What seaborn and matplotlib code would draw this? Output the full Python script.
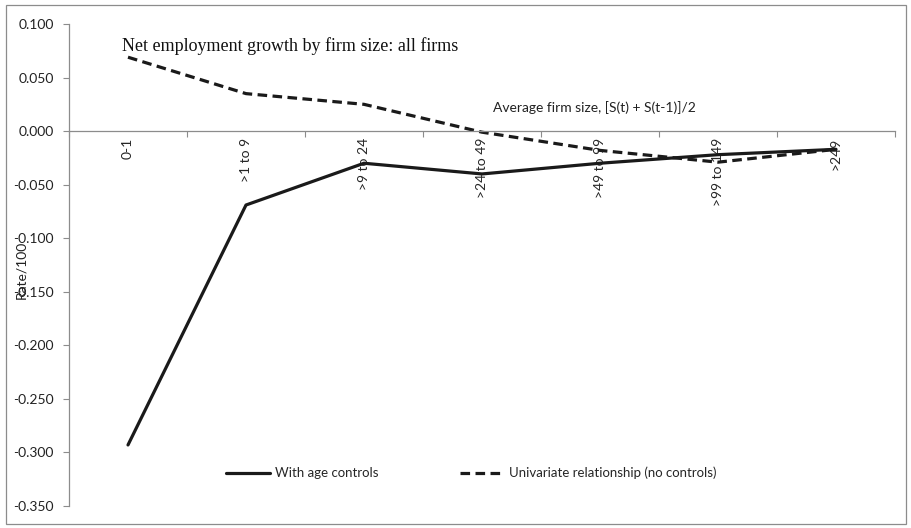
import matplotlib
matplotlib.use("Agg")
import matplotlib.pyplot as plt
import pandas as pd
import seaborn as sns
from matplotlib.patches import Rectangle

# firm size classes (x categories)
size_classes = ["0-1", ">1 to 9", ">9 to 24", ">24 to 49", ">49 to 99", ">99 to 149", ">249"]
# net employment growth rate / 100
with_age_controls = [-0.293, -0.069, -0.030, -0.040, -0.030, -0.022, -0.017]
univariate = [0.069, 0.035, 0.025, -0.001, -0.018, -0.029, -0.017]

series_names = ["With age controls", "Univariate relationship (no controls)"]
y_ticks = [0.100, 0.050, 0.000, -0.050, -0.100, -0.150, -0.200, -0.250, -0.300, -0.350]

df = pd.DataFrame({
    "pos": list(range(len(size_classes))) * 2,
    "rate": with_age_controls + univariate,
    "series": [series_names[0]] * len(size_classes) + [series_names[1]] * len(size_classes),
})

sns.set_style("white")
plt.rcParams["font.family"] = ["Lato", "DejaVu Sans"]
GREY = "#8c8c8c"

fig = plt.figure(figsize=(9.12, 5.28), dpi=100)
ax = fig.add_axes([69 / 912, 1 - 506 / 528, 826 / 912, 482 / 528])

sns.lineplot(
    data=df, x="pos", y="rate", style="series", style_order=series_names,
    dashes={series_names[0]: "", series_names[1]: (3.0, 1.7)},
    color="#1a1a1a", linewidth=2.3, ax=ax, legend=True,
)

ax.set_xlim(-0.5, len(size_classes) - 0.5)
ax.set_ylim(-0.35, 0.10)
ax.set_yticks(y_ticks)
ax.set_yticklabels([f"{v:.3f}" for v in y_ticks], fontsize=10, color="#222222")
ax.tick_params(axis="y", direction="out", length=4, width=0.8, color=GREY, pad=7, left=True)

# category boundaries as major ticks, labels at centres as minor ticks
ax.set_xticks([i - 0.5 for i in range(len(size_classes) + 1)])
ax.set_xticklabels([])
ax.set_xticks(range(len(size_classes)), minor=True)
ax.set_xticklabels(size_classes, minor=True, fontsize=10, color="#222222")
ax.tick_params(axis="x", which="major", direction="out", length=4, width=0.8, color=GREY, bottom=True)
ax.tick_params(axis="x", which="minor", length=0, pad=5, labelrotation=90)

ax.spines["bottom"].set_position(("data", 0))
for s in ("top", "right"):
    ax.spines[s].set_visible(False)
for s in ("left", "bottom"):
    ax.spines[s].set_color(GREY)
    ax.spines[s].set_linewidth(0.9)
ax.set_axisbelow(True)
ax.grid(False)

ax.set_xlabel("Average firm size, [S(t) + S(t-1)]/2", fontsize=10, color="#222222")
ax.xaxis.set_label_coords(0.636, 0.84)
ax.set_ylabel("Rate/100", fontsize=10, color="#222222")
ax.yaxis.set_label_coords(-0.051, 0.49)

ax.text(0.064, 0.955, "Net employment growth by firm size: all firms",
        transform=ax.transAxes, fontsize=13, family="Liberation Serif",
        ha="left", va="center", color="#111111")

ax.legend(
    loc="center", bbox_to_anchor=(0.487, 0.068), ncol=2, frameon=False,
    fontsize=9.5, handlelength=3.3, handletextpad=0.4, columnspacing=6.2,
)

fig.patches.append(Rectangle((6 / 912, 4 / 528), 900 / 912, 519 / 528,
                             transform=fig.transFigure, fill=False,
                             edgecolor=GREY, linewidth=0.9))

fig.savefig("out.png", dpi=100)
